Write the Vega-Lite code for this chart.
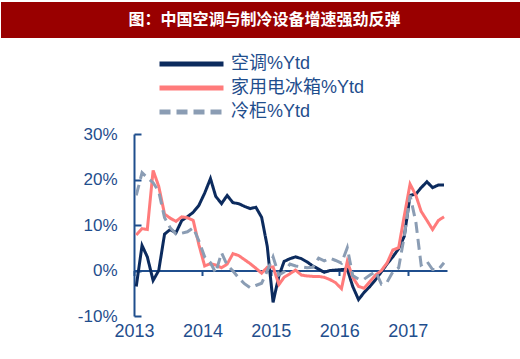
{
  "$schema": "https://vega.github.io/schema/vega-lite/v6.json",
  "padding": {"left": 1, "top": 2, "right": 0, "bottom": 0},
  "spacing": 87,
  "config": {
    "view": {"stroke": null},
    "font": "Liberation Sans, Noto Sans CJK SC",
    "legend": {
      "orient": "none", "legendX": 156, "legendY": 53, "padding": 0,
      "symbolType": "stroke", "symbolSize": 4096, "symbolStrokeWidth": 5, "clipHeight": 18,
      "labelFontSize": 18, "labelColor": "#1f4e8d", "labelFont": "Liberation Sans, Noto Sans CJK SC",
      "labelOffset": 5, "rowPadding": 6
    }
  },
  "datasets": {
    "banner": [{"t": "图：中国空调与制冷设备增速强劲反弹"}],
    "series": [
      {"d":"2013-01-13","s":"空调%Ytd","v":-3.5},{"d":"2013-02-13","s":"空调%Ytd","v":5.5},{"d":"2013-03-13","s":"空调%Ytd","v":3.0},{"d":"2013-04-13","s":"空调%Ytd","v":-2.2},{"d":"2013-05-13","s":"空调%Ytd","v":0},{"d":"2013-06-13","s":"空调%Ytd","v":8.0},{"d":"2013-07-13","s":"空调%Ytd","v":9.0},{"d":"2013-08-13","s":"空调%Ytd","v":8.3},{"d":"2013-09-13","s":"空调%Ytd","v":11.0},{"d":"2013-10-13","s":"空调%Ytd","v":11.8},{"d":"2013-11-13","s":"空调%Ytd","v":12.8},{"d":"2013-12-13","s":"空调%Ytd","v":14.3},
      {"d":"2014-01-13","s":"空调%Ytd","v":17.0},{"d":"2014-02-13","s":"空调%Ytd","v":20.2},{"d":"2014-03-13","s":"空调%Ytd","v":16.3},{"d":"2014-04-13","s":"空调%Ytd","v":14.7},{"d":"2014-05-13","s":"空调%Ytd","v":16.5},{"d":"2014-06-13","s":"空调%Ytd","v":14.9},{"d":"2014-07-13","s":"空调%Ytd","v":14.7},{"d":"2014-08-13","s":"空调%Ytd","v":14.1},{"d":"2014-09-13","s":"空调%Ytd","v":13.6},{"d":"2014-10-13","s":"空调%Ytd","v":13.9},{"d":"2014-11-13","s":"空调%Ytd","v":11.7},{"d":"2014-12-13","s":"空调%Ytd","v":5.3},
      {"d":"2015-01-13","s":"空调%Ytd","v":-7.0},{"d":"2015-02-13","s":"空调%Ytd","v":-1.2},{"d":"2015-03-13","s":"空调%Ytd","v":2.0},{"d":"2015-04-13","s":"空调%Ytd","v":2.6},{"d":"2015-05-13","s":"空调%Ytd","v":3.0},{"d":"2015-06-13","s":"空调%Ytd","v":2.6},{"d":"2015-07-13","s":"空调%Ytd","v":1.9},{"d":"2015-08-13","s":"空调%Ytd","v":1.0},{"d":"2015-09-13","s":"空调%Ytd","v":0.3},{"d":"2015-10-13","s":"空调%Ytd","v":-0.4},{"d":"2015-11-13","s":"空调%Ytd","v":0.0},{"d":"2015-12-13","s":"空调%Ytd","v":0.1},
      {"d":"2016-01-13","s":"空调%Ytd","v":0.2},{"d":"2016-02-13","s":"空调%Ytd","v":0.3},{"d":"2016-03-13","s":"空调%Ytd","v":-3.5},{"d":"2016-04-13","s":"空调%Ytd","v":-6.4},{"d":"2016-05-13","s":"空调%Ytd","v":-4.8},{"d":"2016-06-13","s":"空调%Ytd","v":-3.5},{"d":"2016-07-13","s":"空调%Ytd","v":-2.0},{"d":"2016-08-13","s":"空调%Ytd","v":-0.3},{"d":"2016-09-13","s":"空调%Ytd","v":1.5},{"d":"2016-10-13","s":"空调%Ytd","v":3.0},{"d":"2016-11-13","s":"空调%Ytd","v":4.8},{"d":"2016-12-13","s":"空调%Ytd","v":7.5},
      {"d":"2017-01-13","s":"空调%Ytd","v":16.5},{"d":"2017-02-13","s":"空调%Ytd","v":16.8},{"d":"2017-03-13","s":"空调%Ytd","v":18.2},{"d":"2017-04-13","s":"空调%Ytd","v":19.5},{"d":"2017-05-13","s":"空调%Ytd","v":18.2},{"d":"2017-06-13","s":"空调%Ytd","v":18.8},{"d":"2017-07-13","s":"空调%Ytd","v":18.8},

      {"d":"2013-01-13","s":"家用电冰箱%Ytd","v":7.8},{"d":"2013-02-13","s":"家用电冰箱%Ytd","v":9.2},{"d":"2013-03-13","s":"家用电冰箱%Ytd","v":9.0},{"d":"2013-04-13","s":"家用电冰箱%Ytd","v":22.0},{"d":"2013-05-13","s":"家用电冰箱%Ytd","v":18.5},{"d":"2013-06-13","s":"家用电冰箱%Ytd","v":12.4},{"d":"2013-07-13","s":"家用电冰箱%Ytd","v":11.5},{"d":"2013-08-13","s":"家用电冰箱%Ytd","v":10.8},{"d":"2013-09-13","s":"家用电冰箱%Ytd","v":11.8},{"d":"2013-10-13","s":"家用电冰箱%Ytd","v":11.6},{"d":"2013-11-13","s":"家用电冰箱%Ytd","v":11.0},{"d":"2013-12-13","s":"家用电冰箱%Ytd","v":5.7},
      {"d":"2014-01-13","s":"家用电冰箱%Ytd","v":1.0},{"d":"2014-02-13","s":"家用电冰箱%Ytd","v":1.5},{"d":"2014-03-13","s":"家用电冰箱%Ytd","v":1.2},{"d":"2014-04-13","s":"家用电冰箱%Ytd","v":0.6},{"d":"2014-05-13","s":"家用电冰箱%Ytd","v":1.4},{"d":"2014-06-13","s":"家用电冰箱%Ytd","v":3.7},{"d":"2014-07-13","s":"家用电冰箱%Ytd","v":3.3},{"d":"2014-08-13","s":"家用电冰箱%Ytd","v":2.4},{"d":"2014-09-13","s":"家用电冰箱%Ytd","v":1.5},{"d":"2014-10-13","s":"家用电冰箱%Ytd","v":0.5},{"d":"2014-11-13","s":"家用电冰箱%Ytd","v":-0.6},{"d":"2014-12-13","s":"家用电冰箱%Ytd","v":0.7},
      {"d":"2015-01-13","s":"家用电冰箱%Ytd","v":0.8},{"d":"2015-02-13","s":"家用电冰箱%Ytd","v":-3.1},{"d":"2015-03-13","s":"家用电冰箱%Ytd","v":-1.5},{"d":"2015-04-13","s":"家用电冰箱%Ytd","v":-0.7},{"d":"2015-05-13","s":"家用电冰箱%Ytd","v":0.1},{"d":"2015-06-13","s":"家用电冰箱%Ytd","v":-1.0},{"d":"2015-07-13","s":"家用电冰箱%Ytd","v":-1.2},{"d":"2015-08-13","s":"家用电冰箱%Ytd","v":-1.3},{"d":"2015-09-13","s":"家用电冰箱%Ytd","v":-1.3},{"d":"2015-10-13","s":"家用电冰箱%Ytd","v":-1.5},{"d":"2015-11-13","s":"家用电冰箱%Ytd","v":-2.0},{"d":"2015-12-13","s":"家用电冰箱%Ytd","v":-2.7},
      {"d":"2016-01-13","s":"家用电冰箱%Ytd","v":-4.0},{"d":"2016-02-13","s":"家用电冰箱%Ytd","v":2.0},{"d":"2016-03-13","s":"家用电冰箱%Ytd","v":-1.5},{"d":"2016-04-13","s":"家用电冰箱%Ytd","v":-3.5},{"d":"2016-05-13","s":"家用电冰箱%Ytd","v":-3.9},{"d":"2016-06-13","s":"家用电冰箱%Ytd","v":-2.4},{"d":"2016-07-13","s":"家用电冰箱%Ytd","v":-1.0},{"d":"2016-08-13","s":"家用电冰箱%Ytd","v":0},{"d":"2016-09-13","s":"家用电冰箱%Ytd","v":1.7},{"d":"2016-10-13","s":"家用电冰箱%Ytd","v":4.5},{"d":"2016-11-13","s":"家用电冰箱%Ytd","v":5.0},{"d":"2016-12-13","s":"家用电冰箱%Ytd","v":12.0},
      {"d":"2017-01-13","s":"家用电冰箱%Ytd","v":19.0},{"d":"2017-02-13","s":"家用电冰箱%Ytd","v":16.5},{"d":"2017-03-13","s":"家用电冰箱%Ytd","v":13.0},{"d":"2017-04-13","s":"家用电冰箱%Ytd","v":11.0},{"d":"2017-05-13","s":"家用电冰箱%Ytd","v":9.0},{"d":"2017-06-13","s":"家用电冰箱%Ytd","v":11.0},{"d":"2017-07-13","s":"家用电冰箱%Ytd","v":11.8},

      {"d":"2013-01-13","s":"冷柜%Ytd","v":16.5},{"d":"2013-02-13","s":"冷柜%Ytd","v":21.5},{"d":"2013-03-13","s":"冷柜%Ytd","v":20.4},{"d":"2013-04-13","s":"冷柜%Ytd","v":19.3},{"d":"2013-05-13","s":"冷柜%Ytd","v":17.4},{"d":"2013-06-13","s":"冷柜%Ytd","v":11.6},{"d":"2013-07-13","s":"冷柜%Ytd","v":9.4},{"d":"2013-08-13","s":"冷柜%Ytd","v":8.0},{"d":"2013-09-13","s":"冷柜%Ytd","v":8.2},{"d":"2013-10-13","s":"冷柜%Ytd","v":8.5},{"d":"2013-11-13","s":"冷柜%Ytd","v":9.4},{"d":"2013-12-13","s":"冷柜%Ytd","v":6.5},
      {"d":"2014-01-13","s":"冷柜%Ytd","v":3.0},{"d":"2014-02-13","s":"冷柜%Ytd","v":1.7},{"d":"2014-03-13","s":"冷柜%Ytd","v":-0.5},{"d":"2014-04-13","s":"冷柜%Ytd","v":3.9},{"d":"2014-05-13","s":"冷柜%Ytd","v":1.2},{"d":"2014-06-13","s":"冷柜%Ytd","v":-0.1},{"d":"2014-07-13","s":"冷柜%Ytd","v":-1.6},{"d":"2014-08-13","s":"冷柜%Ytd","v":-2.9},{"d":"2014-09-13","s":"冷柜%Ytd","v":-3.8},{"d":"2014-10-13","s":"冷柜%Ytd","v":-3.3},{"d":"2014-11-13","s":"冷柜%Ytd","v":-2.8},{"d":"2014-12-13","s":"冷柜%Ytd","v":-0.1},
      {"d":"2015-01-13","s":"冷柜%Ytd","v":3.0},{"d":"2015-02-13","s":"冷柜%Ytd","v":-1.0},{"d":"2015-03-13","s":"冷柜%Ytd","v":-0.3},{"d":"2015-04-13","s":"冷柜%Ytd","v":1.4},{"d":"2015-05-13","s":"冷柜%Ytd","v":1.0},{"d":"2015-06-13","s":"冷柜%Ytd","v":0.8},{"d":"2015-07-13","s":"冷柜%Ytd","v":0.6},{"d":"2015-08-13","s":"冷柜%Ytd","v":0.7},{"d":"2015-09-13","s":"冷柜%Ytd","v":2.7},{"d":"2015-10-13","s":"冷柜%Ytd","v":2.1},{"d":"2015-11-13","s":"冷柜%Ytd","v":2.7},{"d":"2015-12-13","s":"冷柜%Ytd","v":2.2},
      {"d":"2016-01-13","s":"冷柜%Ytd","v":1.6},{"d":"2016-02-13","s":"冷柜%Ytd","v":5.0},{"d":"2016-03-13","s":"冷柜%Ytd","v":-1.1},{"d":"2016-04-13","s":"冷柜%Ytd","v":-1.9},{"d":"2016-05-13","s":"冷柜%Ytd","v":-1.9},{"d":"2016-06-13","s":"冷柜%Ytd","v":-1.0},{"d":"2016-07-13","s":"冷柜%Ytd","v":-0.2},{"d":"2016-08-13","s":"冷柜%Ytd","v":-3.0},{"d":"2016-09-13","s":"冷柜%Ytd","v":-2.5},{"d":"2016-10-13","s":"冷柜%Ytd","v":-0.3},{"d":"2016-11-13","s":"冷柜%Ytd","v":0.6},{"d":"2016-12-13","s":"冷柜%Ytd","v":7.5},
      {"d":"2017-01-13","s":"冷柜%Ytd","v":16.5},{"d":"2017-02-13","s":"冷柜%Ytd","v":10.6},{"d":"2017-03-13","s":"冷柜%Ytd","v":1.2},{"d":"2017-04-13","s":"冷柜%Ytd","v":2.0},{"d":"2017-05-13","s":"冷柜%Ytd","v":0.2},{"d":"2017-06-13","s":"冷柜%Ytd","v":0.2},{"d":"2017-07-13","s":"冷柜%Ytd","v":1.7}
    ]
  },
  "vconcat": [
    {
      "width": 519, "height": 36,
      "view": {"fill": "#990000", "stroke": null},
      "data": {"name": "banner"},
      "mark": {"type": "text", "color": "#ffffff", "font": "Noto Sans CJK SC", "fontWeight": "bold", "fontSize": 16, "align": "center", "baseline": "middle", "dx": 4},
      "encoding": {"text": {"field": "t", "type": "nominal"}}
    },
    {
      "width": 519, "height": 182,
      "data": {"name": "series"},
      "mark": {"type": "line", "strokeWidth": 3},
      "encoding": {
        "x": {
          "field": "d", "type": "temporal",
          "scale": {"type": "utc", "range": [133, 446], "domain": [{"year": 2013, "month": 1, "date": 1, "utc": true}, {"year": 2017, "month": 7, "date": 29, "utc": true}]},
          "axis": {
            "values": [{"year": 2013, "utc": true}, {"year": 2014, "utc": true}, {"year": 2015, "utc": true}, {"year": 2016, "utc": true}, {"year": 2017, "utc": true}],
            "format": "%Y", "grid": false, "title": null, "offset": -45.5,
            "domainColor": "#1f4e8d", "domainWidth": 2, "tickColor": "#1f4e8d", "tickWidth": 2, "tickSize": 5,
            "labelPadding": 47, "labelFontSize": 18, "labelColor": "#1f4e8d", "labelFlush": false
          }
        },
        "y": {
          "field": "v", "type": "quantitative",
          "scale": {"domain": [-10, 30], "nice": false, "zero": false},
          "axis": {
            "values": [-10, 0, 10, 20, 30], "labelExpr": "datum.value + '%'", "grid": false, "title": null, "offset": -133,
            "domainColor": "#1f4e8d", "domainWidth": 2, "tickColor": "#1f4e8d", "tickWidth": 2, "tickSize": -7,
            "labelPadding": 24, "labelFontSize": 17, "labelColor": "#1f4e8d"
          }
        },
        "color": {
          "field": "s", "type": "nominal",
          "scale": {"domain": ["空调%Ytd", "家用电冰箱%Ytd", "冷柜%Ytd"], "range": ["#0c2b5e", "#ff7b7b", "#8b9db4"]},
          "legend": {"title": null}
        },
        "strokeDash": {
          "field": "s", "type": "nominal",
          "scale": {"domain": ["空调%Ytd", "家用电冰箱%Ytd", "冷柜%Ytd"], "range": [[1, 0], [1, 0], [11, 6]]},
          "legend": {"title": null}
        }
      }
    }
  ]
}
